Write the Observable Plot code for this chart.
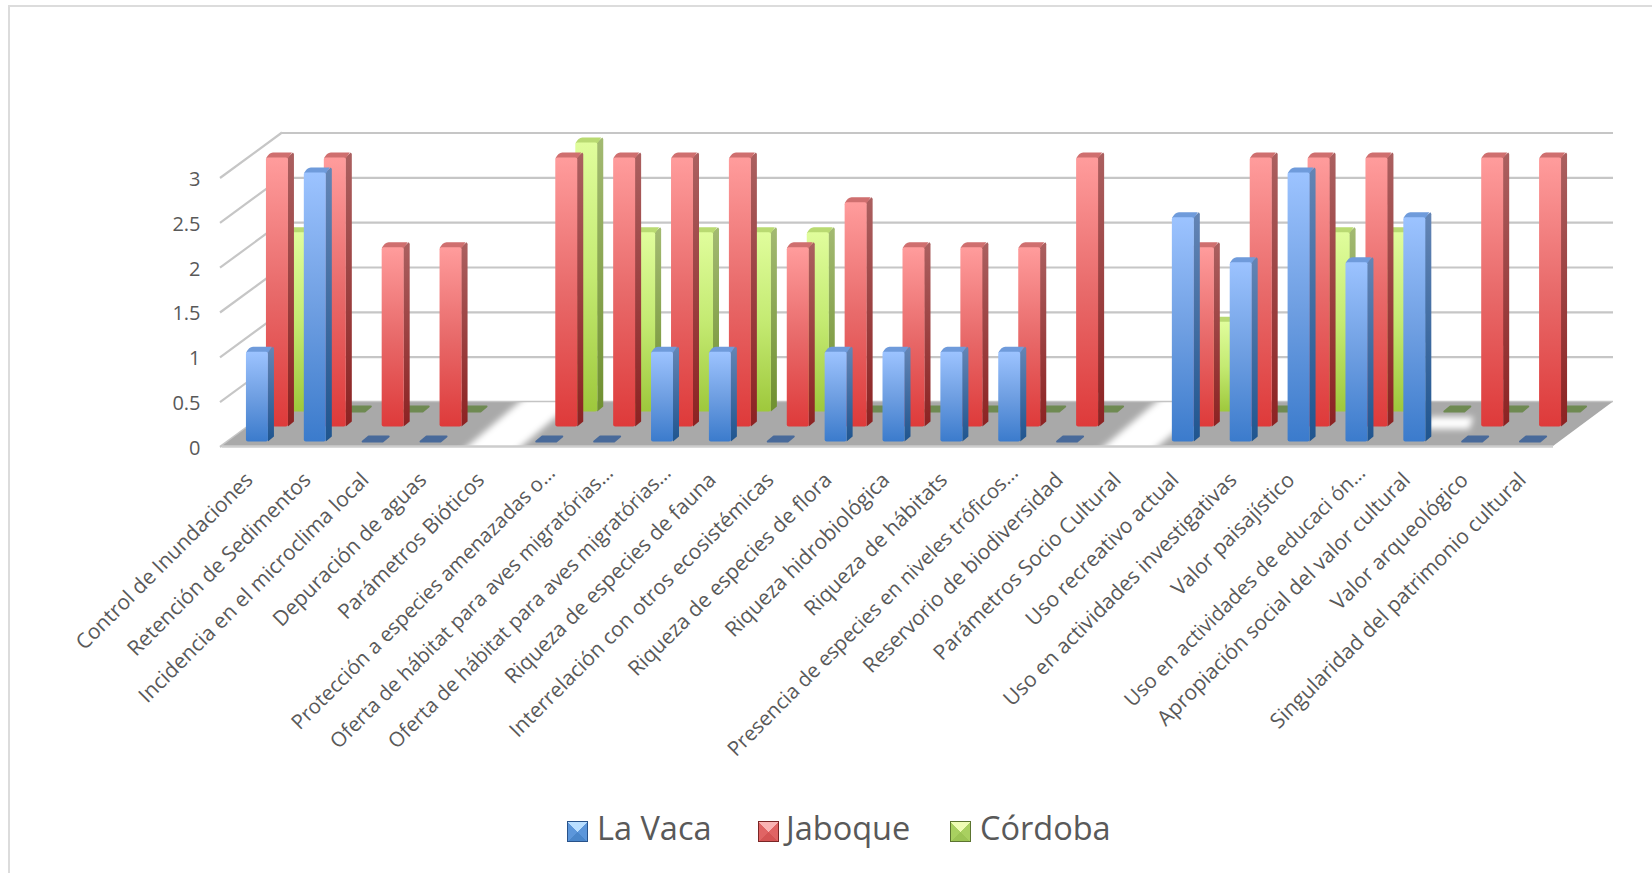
<!DOCTYPE html>
<html lang="es">
<head>
<meta charset="utf-8">
<title>Valoración de funciones de humedales</title>
<script src="https://cdn.jsdelivr.net/npm/d3@7"></script>
<script src="https://cdn.jsdelivr.net/npm/@observablehq/plot@0.6"></script>
<style>
  html, body { margin: 0; padding: 0; background: #fff; }
  body { width: 1652px; height: 873px; position: relative; overflow: hidden; font-family: "Open Sans", sans-serif; }
  #frame { position: absolute; left: 8px; top: 5px; right: -4px; bottom: -4px; border: 2px solid #dcdcdc; border-right-width: 0; border-bottom-width: 0; pointer-events: none; }
  #chart svg { display: block; }
  #legend { position: absolute; left: 0; top: 806px; width: 1652px; height: 46px; }
  #legend .item { position: absolute; top: 0; height: 46px; line-height: 44px; font-size: 32.5px; color: #595959; white-space: nowrap; }
  #legend .swatch { position: absolute; top: 15px; width: 21px; height: 21px; box-sizing: border-box; }
</style>
</head>
<body>
<div id="chart"></div>
<div id="legend"></div>
<div id="frame"></div>
<script>
// Wetland function scores per criterion, one list per wetland.
const categories = [
  "Control de Inundaciones", "Retención de Sedimentos", "Incidencia en el microclima local",
  "Depuración de aguas", "Parámetros Bióticos", "Protección a especies amenazadas o...",
  "Oferta de hábitat para aves migratórias...", "Oferta de hábitat para aves migratórias... ",
  "Riqueza de especies de fauna", "Interrelación con otros ecosistémicas", "Riqueza de especies de flora",
  "Riqueza hidrobiológica", "Riqueza de hábitats", "Presencia de especies en niveles tróficos...",
  "Reservorio de biodiversidad", "Parámetros Socio Cultural", "Uso recreativo actual",
  "Uso en actividades investigativas", "Valor paisajístico", "Uso en actividades de educaci ón...",
  "Apropiación social del valor cultural", "Valor arqueológico", "Singularidad del patrimonio cultural"
];
const laVaca  = [1, 3, 0, 0, null, 0, 0, 1, 1, 0, 1, 1, 1, 1, 0, null, 2.5, 2, 3, 2, 2.5, 0, 0];
const jaboque = [3, 3, 2, 2, null, 3, 3, 3, 3, 2, 2.5, 2, 2, 2, 3, null, 2, 3, 3, 3, null, 3, 3];
const cordoba = [2, 0, 0, 0, null, 3, 2, 2, 2, 2, 0, 0, 0, 0, 0, null, 1, 0, 2, 2, 0, 0, 0];
const valueTicks = [0, 0.5, 1, 1.5, 2, 2.5, 3];

const seriesNames = ["La Vaca", "Jaboque", "Córdoba"];
const palette = {
  "La Vaca": {face: ["#9cc3ff", "#6f9fe2", "#3b7bcc"], side: ["#6485b5", "#1f558f"], cap: "#6f9bdb", chip: "#496a9a",
              swatch: ["#b9deff", "#5c96da", "#4a86ca", "#28528a"]},
  "Jaboque": {face: ["#ff9c9c", "#e86a6a", "#de3a3a"], side: ["#ab6060", "#8c2222"], cap: "#cf6f6f", chip: "#9a4a4a",
              swatch: ["#f9b4b4", "#e06464", "#d45454", "#7a2626"]},
  "Córdoba": {face: ["#e0fd9c", "#c4ea72", "#9ec83c"], side: ["#a3ba72", "#6f9030"], cap: "#b9da72", chip: "#6f8a52",
              swatch: ["#eefcb4", "#a9d060", "#9cc454", "#5c7430"]}
};

// Oblique projection: how far the back wall and each series row sit from the front edge.
const wallDepth = {x: 60, y: -44.5};
const rowDepth = {x: 20, y: -15};
const bevel = {x: 6, y: -5};
const frontInset = {x: 6, y: -4.5};
const gridColor = "#c6c6c6";

const rows = seriesNames.map((name, s) => ({
  name, s,
  data: categories.map((category, i) => ({category, value: [laVaca, jaboque, cordoba][s][i]})).filter((d) => d.value !== null)
}));

// Labels cut short with an ellipsis sit on their own, slightly tighter, baseline.
const isCut = (c) => c.trim().endsWith("...");
const fullLabels = categories.filter((c) => !isCut(c));
const cutLabels = categories.filter(isCut);

const svgNS = "http://www.w3.org/2000/svg";
const el = (tag, attrs = {}, parent) => {
  const node = document.createElementNS(svgNS, tag);
  for (const k in attrs) node.setAttribute(k, attrs[k]);
  if (parent) parent.appendChild(node);
  return node;
};

// Gradients and the soft-edge filter used by the columns and the floor.
function defsMark() {
  const g = el("g");
  const defs = el("defs", {}, g);
  const f = el("filter", {id: "soft", x: "-40%", y: "-40%", width: "180%", height: "180%"}, defs);
  el("feGaussianBlur", {stdDeviation: 3.2}, f);
  for (const name of seriesNames) {
    const key = name.replace(/[^a-zA-Z]/g, "");
    const p = palette[name];
    const face = el("linearGradient", {id: `face-${key}`, x1: 0, y1: 0, x2: 0, y2: 1}, defs);
    p.face.forEach((c, i) => el("stop", {offset: i / 2, "stop-color": c}, face));
    const side = el("linearGradient", {id: `side-${key}`, x1: 0, y1: 0, x2: 0, y2: 1}, defs);
    p.side.forEach((c, i) => el("stop", {offset: i, "stop-color": c}, side));
  }
  return g;
}

// Left wall diagonals and the shaded floor with its unshaded gaps.
function wallsMark(index, {x, y}, values, {width, marginLeft, marginRight}) {
  const g = el("g");
  const left = marginLeft, right = width - marginRight, y0 = y(0);
  const dx = wallDepth.x, dy = wallDepth.y;
  for (const t of valueTicks) {
    el("line", {x1: left - 2, y1: y(t) + 1, x2: left + dx, y2: y(t) + dy, stroke: gridColor, "stroke-width": 2.2}, g);
  }
  const floor = `M${left},${y0}L${right},${y0}L${right + dx},${y0 + dy}L${left + dx},${y0 + dy}Z`;
  el("path", {d: floor, fill: "#a9a9a9"}, g);
  const step = x.step();
  const bandLeft = (c) => x(c) - (step - x.bandwidth()) / 2;
  const clip = el("clipPath", {id: "floor-clip"}, g);
  el("path", {d: floor}, clip);
  const holes = el("g", {"clip-path": "url(#floor-clip)"}, g);
  const blur = el("g", {filter: "url(#soft)"}, holes);
  categories.forEach((c, i) => {
    if (laVaca[i] === null && jaboque[i] === null && cordoba[i] === null) {
      const a = bandLeft(c) + 5, b = a + step - 4;
      el("path", {d: `M${a},${y0 + 8}L${b},${y0 + 8}L${b + dx + 11},${y0 + dy - 8}L${a + dx + 11},${y0 + dy - 8}Z`, fill: "#fff"}, blur);
    } else if (jaboque[i] === null) {
      // Single missing column: only its own footprint is unshaded.
      const a = bandLeft(c) + 46, b = a + 44;
      el("path", {d: `M${a},${y0 - 17}L${b},${y0 - 17}L${b + 4},${y0 - 29}L${a + 4},${y0 - 29}Z`, fill: "#fff"}, blur);
    }
  });
  el("line", {x1: left, y1: y0 + 0.5, x2: right, y2: y0 + 0.5, stroke: "#cdcdcd", "stroke-width": 2.4}, g);
  el("line", {x1: left + dx, y1: y0 + dy, x2: right + dx, y2: y0 + dy, stroke: "#c4c4c4", "stroke-width": 1.6}, g);
  return g;
}

// One row of columns: the front face is a Plot bar; side and cap are derived from its position.
function columnRow({name, s, data}) {
  const key = name.replace(/[^a-zA-Z]/g, "");
  const p = palette[name];
  const ox = frontInset.x + s * rowDepth.x;
  const oy = frontInset.y + s * rowDepth.y;
  return Plot.barY(data, {
    x: "category",
    y: "value",
    fill: `url(#face-${key})`,
    dx: ox,
    dy: oy,
    rx: 2,
    render(index, scales, values, dimensions, context, next) {
      const g = el("g");
      const w = scales.x.bandwidth();
      for (const i of index) {
        const d = data[i];
        const x0 = scales.x(d.category) + ox;
        const yTop = scales.y(d.value) + oy;
        const yBase = scales.y(0) + oy;
        const bx = bevel.x, by = bevel.y;
        if (d.value === 0) {
          // A zero score leaves only a flat tile on the floor.
          el("path", {
            d: `M${x0 + 1},${yBase}L${x0 + w - 1},${yBase}L${x0 + w + bx - 1},${yBase + by}L${x0 + bx + 1},${yBase + by}Z`,
            fill: p.chip, stroke: p.chip, "stroke-width": 2, "stroke-linejoin": "round"
          }, g);
          continue;
        }
        el("path", {d: `M${x0 + w - 0.5},${yTop}L${x0 + w + bx - 1},${yTop + by}Q${x0 + w + bx},${yTop + by + 1} ${x0 + w + bx},${yTop + by + 2}L${x0 + w + bx},${yBase - 5}L${x0 + w},${yBase}Z`, fill: `url(#side-${key})`}, g);
        el("path", {d: `M${x0},${yTop + 1}Q${x0 + 3},${yTop + by} ${x0 + bx + 1},${yTop + by}L${x0 + w + bx - 2},${yTop + by}L${x0 + w},${yTop + 1}Z`, fill: p.cap}, g);
      }
      const bars = next(index.filter((i) => data[i].value > 0), scales, values, dimensions, context);
      g.appendChild(bars);
      return g;
    }
  });
}

const chart = Plot.plot({
  width: 1652,
  height: 800,
  marginLeft: 222,
  marginRight: 99,
  marginTop: 177,
  marginBottom: 354,
  style: {fontFamily: '"Open Sans", sans-serif', background: "transparent"},
  x: {domain: categories, paddingInner: 0.62, paddingOuter: 0.31, align: 0.5, round: false, label: null},
  y: {domain: [0, 3], label: null, ticks: valueTicks},
  marks: [
    defsMark,
    wallsMark,
    Plot.ruleY(valueTicks.filter((t) => t > 0), {dx: wallDepth.x, dy: wallDepth.y, stroke: gridColor, strokeWidth: 2.2, strokeOpacity: 1}),
    ...rows.slice().reverse().map(columnRow),
    Plot.axisY({
      ticks: valueTicks, tickFormat: (d) => String(d), tickSize: 0, tickPadding: 0, dx: -22, dy: 2,
      fontSize: 20, fill: "#595959", label: null, anchor: "left"
    }),
    Plot.axisX({
      ticks: fullLabels, tickRotate: -45, tickSize: 0, tickPadding: 0, dx: -2, dy: 30,
      fontSize: 21, fill: "#595959", label: null
    }),
    Plot.axisX({
      ticks: cutLabels, tickRotate: -45, tickSize: 0, tickPadding: 0, dx: 11, dy: 23,
      fontSize: 20.4, fill: "#595959", label: null,
      tickFormat: (d) => d.trim()
    })
  ]
});
document.getElementById("chart").appendChild(chart);

// Legend: bevelled swatch followed by the wetland name.
const legendPositions = [{swatch: 567, text: 597}, {swatch: 758, text: 786}, {swatch: 950, text: 980}];
const legend = d3.select("#legend");
seriesNames.forEach((name, i) => {
  const [top, mid, bottom, edge] = palette[name].swatch;
  legend.append("div").attr("class", "swatch")
    .style("left", legendPositions[i].swatch + "px")
    .style("background", `conic-gradient(from 315deg, ${top} 0 90deg, ${mid} 90deg 180deg, ${bottom} 180deg 270deg, ${mid} 270deg 360deg)`)
    .style("border", `1px solid ${edge}`);
  legend.append("div").attr("class", "item")
    .style("left", legendPositions[i].text + "px")
    .text(name);
});
</script>
</body>
</html>
